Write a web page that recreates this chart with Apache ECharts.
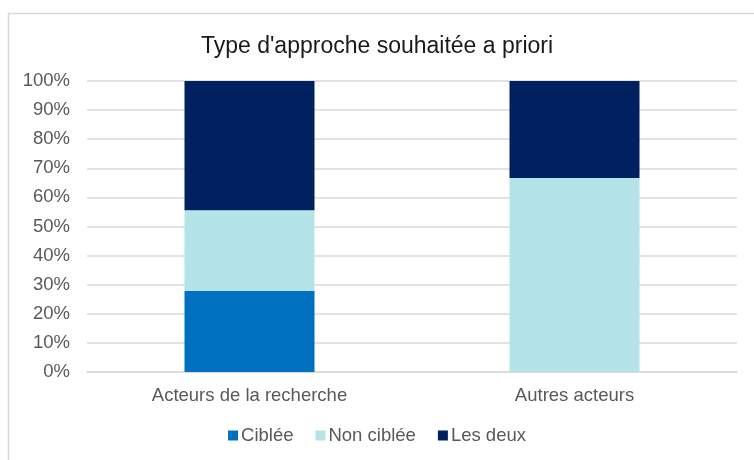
<!DOCTYPE html>
<html lang="fr">
<head>
<meta charset="UTF-8">
<title>Type d'approche souhaitée a priori</title>
<script src="https://cdn.jsdelivr.net/npm/echarts@6/dist/echarts.min.js"></script>
<style>
html, body { margin: 0; padding: 0; background: #ffffff; }
#chart { width: 754px; height: 460px; }
</style>
</head>
<body>
<div id="chart"></div>
<script>
// données (en %)
const categories = ['Acteurs de la recherche', 'Autres acteurs'];
const cibleeValues = [27.8, 0];
const nonCibleeValues = [27.8, 66.7];
const lesDeuxValues = [44.4, 33.3];
const yTicks = [0, 10, 20, 30, 40, 50, 60, 70, 80, 90, 100];

const chart = echarts.init(document.getElementById('chart'));
const font = 'Liberation Sans, Arial, sans-serif';

chart.setOption({
  animation: false,
  graphic: [{
    type: 'rect',
    shape: { x: 8.5, y: 13.5, width: 800, height: 600 },
    style: { fill: 'none', stroke: '#d9d9d9', lineWidth: 1.5 },
    silent: true
  }],
  title: {
    text: "Type d'approche souhaitée a priori",
    left: 'center',
    top: 30,
    textStyle: { fontFamily: font, fontSize: 23, fontWeight: 'normal', color: '#1a1a1a' }
  },
  legend: {
    bottom: 10,
    left: 'center',
    itemWidth: 10,
    itemHeight: 10,
    itemGap: 22,
    icon: 'rect',
    textStyle: { fontFamily: font, fontSize: 18.5, color: '#595959', padding: [0, 0, 0, -2] },
    data: ['Ciblée', 'Non ciblée', 'Les deux']
  },
  grid: { left: 87, right: 17, top: 81, bottom: 88 },
  xAxis: {
    type: 'category',
    data: categories,
    axisLine: { lineStyle: { color: '#d9d9d9', width: 1.5 } },
    axisTick: { show: false },
    axisLabel: { fontFamily: font, fontSize: 18.5, color: '#595959', margin: 14 }
  },
  yAxis: {
    type: 'value',
    min: yTicks[0],
    max: yTicks[yTicks.length - 1],
    interval: 10,
    axisLine: { show: false },
    axisTick: { show: false },
    splitLine: { lineStyle: { color: '#d9d9d9', width: 1.5 } },
    axisLabel: { fontFamily: font, fontSize: 18.5, color: '#595959', margin: 17, formatter: '{value}%' }
  },
  series: [
    { name: 'Ciblée', type: 'bar', stack: 'total', barWidth: 130, data: cibleeValues, itemStyle: { color: '#0070c0' } },
    { name: 'Non ciblée', type: 'bar', stack: 'total', barWidth: 130, data: nonCibleeValues, itemStyle: { color: '#b4e4e8' } },
    { name: 'Les deux', type: 'bar', stack: 'total', barWidth: 130, data: lesDeuxValues, itemStyle: { color: '#002060' } }
  ]
});
</script>
</body>
</html>
